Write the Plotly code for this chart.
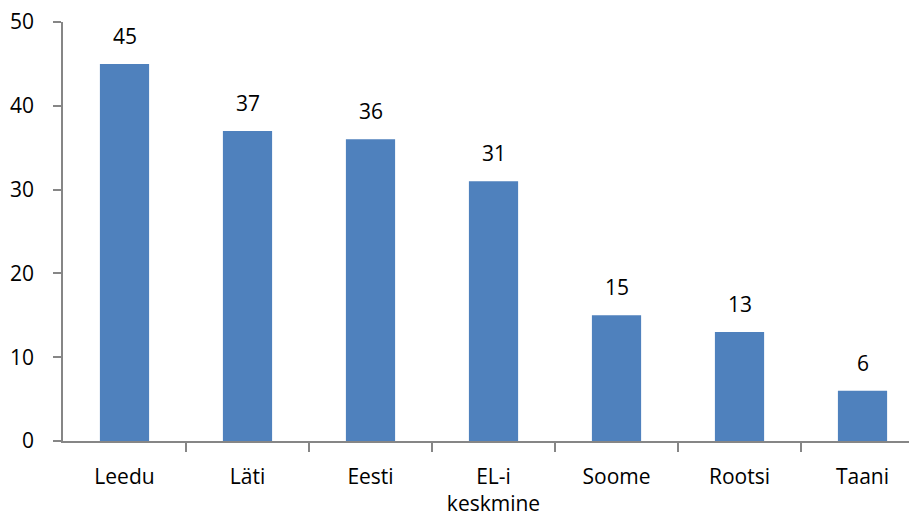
import plotly.graph_objects as go

categories = ["Leedu", "Läti", "Eesti", "EL-i<br>keskmine", "Soome", "Rootsi", "Taani"]
values = [45, 37, 36, 31, 15, 13, 6]
y_ticks = [0, 10, 20, 30, 40, 50]

FONT = "Open Sans"
FS = 21
fig = go.Figure()
fig.add_trace(go.Bar(
    x=list(range(len(categories))), y=values,
    marker=dict(color="#4F81BD", line=dict(color="#4F81BD", width=0)),
    width=0.4, hoverinfo="skip",
))
for i, v in enumerate(values):
    fig.add_annotation(x=i, y=v, text=str(v), showarrow=False,
                       yanchor="bottom", yshift=12,
                       font=dict(family=FONT, size=FS, color="#000000"))

# page body has an 8px margin, so offset everything by 8px
fig.update_layout(
    width=909, height=509,
    margin=dict(l=55, r=0, t=14, b=76),
    paper_bgcolor="white", plot_bgcolor="white",
    showlegend=False,
    font=dict(family=FONT, size=FS, color="#000000"),
)
fig.update_xaxes(
    range=[-0.5, 6.443], automargin=False,
    tickmode="array", tickvals=list(range(len(categories))), ticktext=categories,
    showline=True, linecolor="#868686", linewidth=1.5,
    ticks="", showgrid=False, zeroline=False,
    ticklabelstandoff=16, ticklabeloverflow="allow",
)
fig.update_xaxes(minor=dict(tickmode="array", tickvals=[0.5 + i for i in range(6)],
                            ticks="outside", ticklen=9, tickcolor="#868686", tickwidth=1.5))
fig.update_yaxes(
    range=[0, 50], tickvals=y_ticks, automargin=False,
    showline=True, linecolor="#868686", linewidth=1.5,
    ticks="outside", ticklen=8, tickcolor="#868686", tickwidth=1.5,
    showgrid=False, zeroline=False,
    ticklabelstandoff=15, ticklabeloverflow="allow",
)
fig.write_html("out.html")
